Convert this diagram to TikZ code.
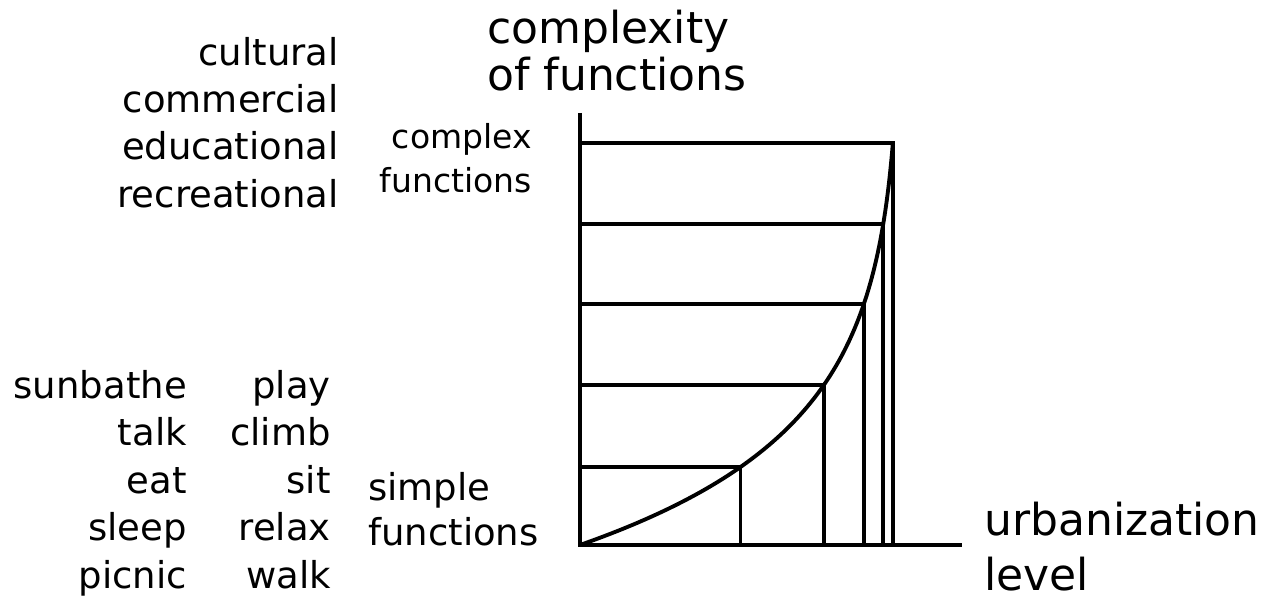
\documentclass[tikz,border=0pt]{standalone}
\usepackage{fontspec}
\setmainfont{DejaVu Sans}
\begin{document}
\begin{tikzpicture}[x=0.75pt,y=-0.75pt,
  lbl/.style={inner sep=0pt,font=\fontsize{27.75}{35}\selectfont},
  smalllbl/.style={inner sep=0pt,font=\fontsize{24.75}{31}\selectfont},
  biglbl/.style={inner sep=0pt,font=\fontsize{33}{41}\selectfont},
  axis/.style={line width=2.9pt},
  curve/.style={line width=2.9pt,line cap=round}]
\useasboundingbox (0,0) rectangle (1269,606);
% geometry: curve x = 580 + 322(1 - exp(-h/113)), h = 545 - y
\coordinate (O) at (580,545);
\coordinate (Ytop) at (580,113);
\coordinate (Xend) at (962,545);
\coordinate (p1) at (740.5,467);
\coordinate (p2) at (823.9,385);
\coordinate (p3) at (863.8,304);
\coordinate (p4) at (883.2,224);
\coordinate (p5) at (892.8,143);
\draw[axis] (Ytop) -- (O) -- (Xend);
\foreach \p in {p1,p2,p3,p4,p5}
  \draw[axis] (O |- \p) -- (\p) -- (\p |- O);
\draw[curve] plot[domain=0:402,samples=80,smooth]
  ({580+322*(1-exp(-\x/113))},{545-\x});
% title
\node[biglbl,anchor=base west] (t1) at (487,44) {complexity};
\node[biglbl,anchor=base west] (t2) at (487,91) {of functions};
% x label
\node[biglbl,anchor=base west] (u1) at (984,535) {urbanization};
\node[biglbl,anchor=base west] (u2) at (984,590) {level};
% complex functions
\node[smalllbl,anchor=base east] (cf1) at (532,148) {complex};
\node[smalllbl,anchor=base east] (cf2) at (532,192) {functions};
% simple functions
\node[lbl,anchor=base west] (sf1) at (368,500) {simple};
\node[lbl,anchor=base west] (sf2) at (368,545) {functions};
% complex examples
\node[lbl,anchor=base east] (c1) at (339,66) {cultural};
\node[lbl,anchor=base east] (c2) at (339,113) {commercial};
\node[lbl,anchor=base east] (c3) at (339,160) {educational};
\node[lbl,anchor=base east] (c4) at (339,207) {recreational};
% simple examples
\node[lbl,anchor=base east] (a1) at (187,398) {sunbathe};
\node[lbl,anchor=base east] (a2) at (187,445.5) {talk};
\node[lbl,anchor=base east] (a3) at (187,493) {eat};
\node[lbl,anchor=base east] (a4) at (187,540.5) {sleep};
\node[lbl,anchor=base east] (a5) at (187,588) {picnic};
\node[lbl,anchor=base east] (b1) at (331,398) {play};
\node[lbl,anchor=base east] (b2) at (331,445.5) {climb};
\node[lbl,anchor=base east] (b3) at (331,493) {sit};
\node[lbl,anchor=base east] (b4) at (331,540.5) {relax};
\node[lbl,anchor=base east] (b5) at (331,588) {walk};
\end{tikzpicture}
\end{document}
